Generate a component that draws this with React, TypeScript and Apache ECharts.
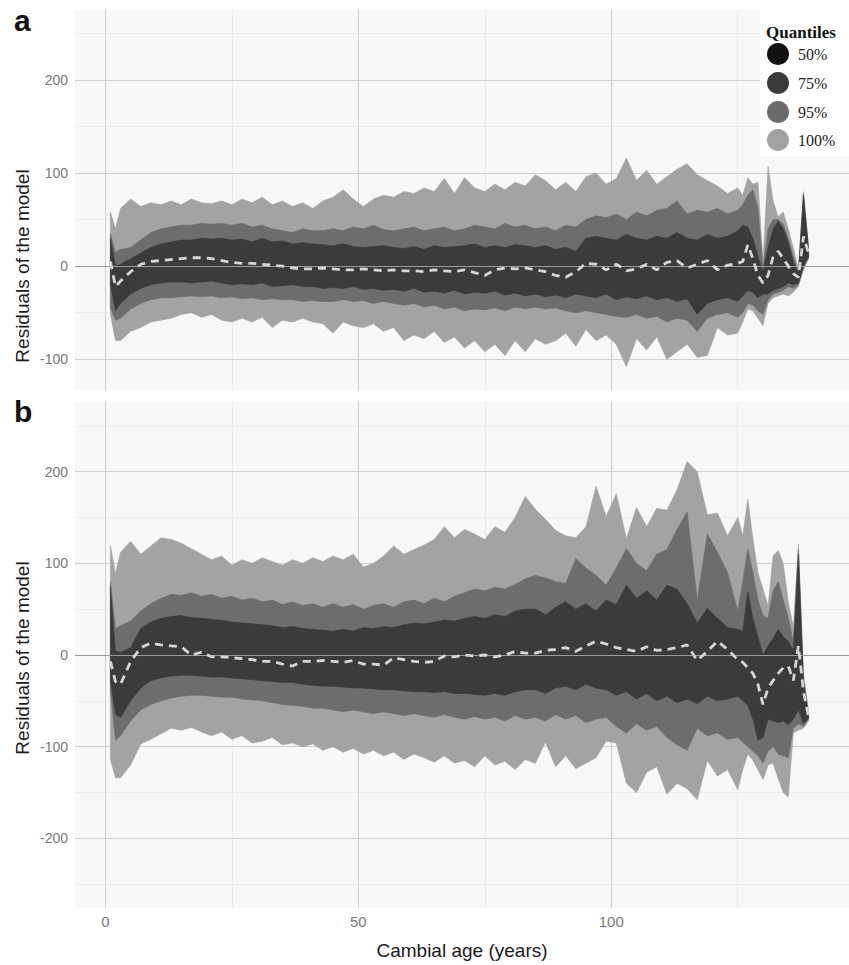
import React, { useEffect, useRef } from "react";
import * as echarts from "echarts";

// Cambial age (years)
const ages = [
  1, 2, 3,
  5, 7, 9, 11, 13, 15, 17, 19, 21, 23, 25, 27, 29, 31, 33, 35, 37, 39, 41, 43,
  45, 47, 49, 51, 53, 55, 57, 59, 61, 63, 65, 67, 69, 71, 73, 75, 77, 79, 81, 83,
  85, 87, 89, 91, 93, 95, 97, 99, 101, 103, 105, 107, 109, 111, 113, 115, 117, 119, 121, 123,
  125, 126, 127, 128, 129, 130, 131, 132, 133, 134, 135, 136, 137, 138, 139,
];

// Panel a
const aU100 = [
  58, 40, 62,
  72, 64, 68, 66, 70, 66, 72, 68, 67, 70, 66, 72, 68, 74, 66, 70, 64, 68, 62, 70,
  74, 82, 72, 64, 72, 76, 74, 80, 78, 84, 80, 94, 78, 95, 84, 80, 88, 82, 90, 86,
  98, 92, 82, 90, 80, 96, 100, 88, 94, 116, 92, 103, 88, 96, 104, 110, 98, 92, 86, 78,
  84, 76, 95, 88, 90, 6, 107, 70, 53, 58, 40, 20, -4, 80, 20,
];
const aU95 = [
  35, 15, 18,
  20, 28, 36, 40, 42, 44, 44, 46, 45, 46, 44, 46, 42, 44, 40, 38, 36, 40, 38, 38,
  40, 38, 42, 40, 44, 39, 38, 40, 42, 38, 40, 42, 38, 40, 44, 42, 40, 46, 42, 44,
  40, 42, 38, 44, 42, 50, 54, 52, 56, 50, 58, 54, 60, 62, 70, 56, 60, 58, 62, 56,
  60, 66, 76, 82, 62, -2, 40, 50, 50, 45, 30, 10, -6, 78, 19,
];
const aU75 = [
  30, 0, 2,
  8, 14, 20, 24, 26, 28, 28, 30, 29, 30, 28, 29, 26, 30, 26, 27, 24, 25, 24, 23,
  22, 24, 21, 20, 21, 22, 20, 19, 21, 18, 22, 20, 21, 22, 24, 20, 22, 20, 23, 22,
  20, 22, 18, 20, 16, 30, 32, 30, 28, 34, 30, 28, 32, 30, 36, 30, 28, 34, 30, 32,
  38, 44, 42, 30, 10, -6, 20, 40, 48, 40, 25, 5, -8, 76, 18,
];
const aMedian = [
  5, -22, -16,
  -6, 2, 5, 6, 7, 8, 9, 9, 8, 6, 4, 3, 3, 2, 1, 0, -2, -3, -3, -2,
  -3, -4, -4, -3, -4, -5, -4, -5, -5, -6, -4, -5, -6, -4, -7, -10, -4, -2, -3, -2,
  -4, -6, -10, -12, -6, 3, 2, -4, 2, -5, -3, 2, -4, 4, 6, -2, 2, 6, -4, 1,
  3, 5, 23, 8, -10, -18, -10, 10, 16, 8, 0, -8, -12, 32, 14,
];
const aL75 = [
  -20, -48, -40,
  -30, -24, -20, -18, -17, -17, -18, -17, -16, -18, -20, -19, -20, -18, -22, -21, -20, -22, -22, -24,
  -23, -24, -22, -25, -24, -26, -25, -27, -24, -28, -27, -29, -26, -30, -28, -29, -27, -31, -29, -32,
  -30, -33, -31, -34, -30, -32, -34, -30, -36, -33, -35, -32, -36, -34, -38, -35, -52, -40, -36, -34,
  -38, -32, -26, -28, -34, -30, -30, -26, -24, -22, -18, -20, -18, 0, 10,
];
const aL95 = [
  -45, -58, -56,
  -46, -40, -36, -34, -34, -33, -32, -33, -32, -34, -33, -35, -34, -36, -35, -36, -36, -38, -37, -38,
  -38, -36, -38, -37, -40, -38, -40, -42, -40, -44, -42, -46, -44, -48, -46, -47, -45, -48, -44, -46,
  -44, -46, -45, -48, -50, -48, -50, -52, -54, -55, -52, -56, -54, -60, -56, -58, -70, -56, -52, -50,
  -55, -50, -40, -42, -48, -52, -36, -30, -28, -26, -22, -24, -20, -2, 9,
];
const aL100 = [
  -52, -80, -80,
  -70, -66, -60, -58, -56, -52, -50, -55, -52, -58, -60, -56, -60, -55, -66, -58, -60, -56, -60, -62,
  -72, -60, -64, -66, -62, -70, -66, -80, -74, -78, -70, -82, -76, -88, -80, -92, -84, -96, -80, -92,
  -78, -84, -80, -72, -86, -68, -80, -74, -84, -108, -78, -90, -76, -100, -92, -84, -98, -96, -66, -74,
  -72, -60, -46, -48, -56, -64, -40, -34, -32, -30, -32, -28, -22, -4, 8,
];

// Panel b
const bU100 = [
  119, 89, 112,
  124, 110, 119, 128, 126, 122, 116, 110, 104, 108, 98, 104, 100, 106, 102, 98, 104, 100, 106, 102,
  108, 104, 110, 96, 100, 108, 119, 110, 115, 120, 126, 140, 128, 137, 132, 126, 140, 134, 150, 173,
  159, 148, 136, 130, 128, 140, 184, 151, 176, 127, 161, 140, 160, 158, 180, 211, 200, 153, 155, 130,
  150, 130, 170, 127, 90, 72, 54, 108, 114, 100, 58, 30, 121, -20, -62,
];
const bU95 = [
  80, 29, 32,
  37, 48, 56, 62, 66, 65, 68, 64, 66, 62, 64, 60, 62, 58, 60, 55, 58, 54, 56, 52,
  56, 52, 55, 50, 54, 56, 52, 58, 60, 56, 62, 58, 64, 68, 72, 70, 74, 72, 77, 83,
  87, 84, 80, 78, 105, 95, 87, 76, 95, 116, 100, 92, 110, 115, 137, 156, 60, 132, 112, 90,
  48, 80, 116, 90, 60, 43, 40, 70, 80, 60, 40, 15, 115, -25, -64,
];
const bU75 = [
  74, 4, 3,
  8, 29, 36, 40, 42, 43, 41, 40, 39, 38, 36, 35, 34, 33, 32, 30, 31, 29, 28, 27,
  26, 28, 26, 30, 29, 31, 30, 33, 35, 34, 36, 38, 37, 40, 42, 40, 44, 42, 48, 50,
  50, 44, 52, 58, 50, 56, 48, 60, 55, 76, 62, 70, 60, 76, 72, 56, 35, 51, 40, 30,
  28, 26, 69, 40, 20, 0, 10, 18, 28, 20, 15, 5, 110, -30, -65,
];
const bMedian = [
  -7, -29, -32,
  -7, 8, 13, 11, 10, 9, 0, 3, -2, -2, -3, -4, -5, -7, -7, -10, -12, -7, -7, -6,
  -7, -8, -6, -10, -10, -11, -3, -5, -7, -8, -7, -1, -2, 0, -1, 0, -2, 0, 4, 2,
  2, 5, 6, 8, 4, 10, 15, 12, 8, 6, 4, 9, 5, 6, 8, 11, -6, 4, 15, 6,
  -5, -8, -14, -20, -32, -54, -36, -28, -20, -14, -12, -28, 10, -40, -67,
];
const bL75 = [
  -28, -65, -68,
  -50, -36, -28, -25, -23, -22, -22, -23, -24, -24, -25, -26, -27, -28, -29, -30, -30, -32, -33, -34,
  -34, -35, -36, -36, -37, -38, -38, -39, -40, -40, -41, -40, -42, -42, -43, -44, -42, -44, -40, -38,
  -38, -42, -36, -34, -38, -32, -36, -38, -44, -40, -48, -42, -50, -45, -52, -48, -53, -45, -50, -48,
  -45, -50, -55, -70, -93, -90, -70, -72, -74, -72, -76, -70, -60, -75, -69,
];
const bL95 = [
  -40, -93, -88,
  -72, -60, -54, -50, -47, -45, -44, -44, -45, -46, -46, -48, -49, -50, -52, -54, -55, -56, -58, -58,
  -60, -62, -60, -62, -64, -62, -64, -66, -64, -66, -68, -65, -68, -70, -67, -70, -68, -72, -66, -70,
  -68, -72, -65, -70, -66, -74, -70, -68, -78, -85, -75, -82, -78, -90, -98, -104, -80, -88, -85, -92,
  -90, -95, -100, -105, -110, -118, -105, -100, -108, -110, -112, -80, -75, -78, -70,
];
const bL100 = [
  -114, -134, -134,
  -120, -97, -92, -86, -80, -82, -79, -84, -88, -84, -92, -88, -96, -94, -90, -98, -96, -100, -97, -104,
  -100, -106, -102, -108, -104, -110, -106, -114, -108, -112, -117, -110, -118, -115, -122, -110, -120, -116, -125, -114,
  -118, -95, -122, -110, -124, -118, -112, -94, -96, -140, -150, -128, -122, -152, -140, -146, -158, -115, -132, -125,
  -147, -125, -108, -115, -125, -136, -120, -118, -135, -150, -155, -85, -82, -80, -72,
];

// Ticks
const xTicks = [0, 50, 100];
const xMinor = [25, 75, 125];
const aYTicks = [-100, 0, 100, 200];
const aYMinor = [-50, 50, 150, 250];
const bYTicks = [-200, -100, 0, 100, 200];
const bYMinor = [-250, -150, -50, 50, 150, 250];

const quantileLabels = ["50%", "75%", "95%", "100%"];
const quantileColors = ["#111111", "#3a3a3a", "#6b6b6b", "#a2a2a2"];

const LIGHT = "#a3a3a3";
const MID = "#6d6d6d";
const DARK = "#3b3b3b";
const SANS = "'Liberation Sans', Arial, sans-serif";
const SERIF = "'Liberation Serif', 'Times New Roman', serif";

function pairs(ys: number[]) {
  return ages.map((x, i) => [x, ys[i]]);
}

function gridMarkLine(yMajor: number[], yMinor: number[]) {
  const major = { color: "#d0d0d0", width: 1, type: "solid" };
  const minor = { color: "#ececec", width: 1, type: "solid" };
  return {
    silent: true,
    symbol: "none",
    z: 1,
    animation: false,
    label: { show: false },
    emphasis: { disabled: true },
    lineStyle: { type: "solid" },
    data: [
      ...xMinor.map((v) => ({ xAxis: v, lineStyle: minor })),
      ...yMinor.map((v) => ({ yAxis: v, lineStyle: minor })),
      ...xTicks.map((v) => ({ xAxis: v, lineStyle: major })),
      ...yMajor.map((v) => ({ yAxis: v, lineStyle: major })),
    ],
  };
}

function gridSeries(idx: number, yMajor: number[], yMinor: number[]) {
  return {
    type: "line",
    xAxisIndex: idx,
    yAxisIndex: idx,
    data: pairs(ages.map(() => 0)),
    symbol: "none",
    showSymbol: false,
    silent: true,
    lineStyle: { width: 0, opacity: 0 },
    z: 1,
    markLine: gridMarkLine(yMajor, yMinor),
  };
}

function band(idx: number, lower: number[], upper: number[], color: string) {
  return {
    type: "custom",
    xAxisIndex: idx,
    yAxisIndex: idx,
    silent: true,
    z: 2,
    clip: true,
    data: ages.map((x, i) => [x, lower[i], upper[i]]),
    encode: { x: 0, y: [1, 2] },
    renderItem: (params: any, api: any) => {
      if (params.dataIndex !== 0) return null;
      const top = ages.map((x, i) => api.coord([x, upper[i]]));
      const bottom = ages.map((x, i) => api.coord([x, lower[i]])).reverse();
      return {
        type: "polygon",
        shape: { points: top.concat(bottom) },
        style: { fill: color, stroke: color, lineWidth: 0.6 },
      };
    },
  };
}

function medianSeries(idx: number, ys: number[]) {
  return {
    type: "line",
    xAxisIndex: idx,
    yAxisIndex: idx,
    data: pairs(ys),
    symbol: "none",
    showSymbol: false,
    silent: true,
    lineStyle: { color: "#d6d6d6", width: 2.8, type: [8, 6] },
    z: 5,
    markLine: {
      silent: true,
      symbol: "none",
      z: 4,
      animation: false,
      label: { show: false },
      emphasis: { disabled: true },
      lineStyle: { color: "#9a9a9a", width: 1, type: "solid" },
      data: [{ yAxis: 0 }],
    },
  };
}

function xAxis(idx: number, withLabels: boolean) {
  return {
    type: "value",
    gridIndex: idx,
    min: -6,
    max: 147,
    axisLine: { show: false },
    axisTick: { show: false },
    splitLine: { show: false },
    axisLabel: withLabels
      ? { show: true, customValues: xTicks, color: "#7a7a7a", fontSize: 15, margin: 6, fontFamily: SANS }
      : { show: false },
    name: withLabels ? "Cambial age (years)" : "",
    nameLocation: "middle",
    nameGap: 33,
    nameTextStyle: { color: "#1a1a1a", fontSize: 19, fontFamily: SANS },
  };
}

function yAxis(idx: number, min: number, max: number, ticks: number[]) {
  return {
    type: "value",
    gridIndex: idx,
    min,
    max,
    axisLine: { show: false },
    axisTick: { show: false },
    splitLine: { show: false },
    axisLabel: { show: true, customValues: ticks, color: "#7a7a7a", fontSize: 14, margin: 7, fontFamily: SANS },
  };
}

function buildOption() {
  const legendY = [54, 83, 112, 140];
  const graphic: any[] = [
    { type: "text", x: 14, y: 5, z: 10, style: { text: "a", font: `bold 30px ${SANS}`, fill: "#111" } },
    { type: "text", x: 14, y: 396, z: 10, style: { text: "b", font: `bold 30px ${SANS}`, fill: "#111" } },
    {
      type: "text", x: 22, y: 266, rotation: Math.PI / 2, z: 10,
      style: { text: "Residuals of the model", font: `19px ${SANS}`, fill: "#1a1a1a", align: "center", verticalAlign: "middle" },
    },
    {
      type: "text", x: 22, y: 658, rotation: Math.PI / 2, z: 10,
      style: { text: "Residuals of the model", font: `19px ${SANS}`, fill: "#1a1a1a", align: "center", verticalAlign: "middle" },
    },
    { type: "rect", z: 10, shape: { x: 760, y: 10, width: 89, height: 146 }, style: { fill: "#ffffff" } },
    {
      type: "text", x: 801, y: 32, z: 11,
      style: { text: "Quantiles", font: `bold 17px ${SERIF}`, fill: "#111", align: "center", verticalAlign: "middle" },
    },
  ];
  quantileLabels.forEach((lab, i) => {
    graphic.push({ type: "circle", z: 11, shape: { cx: 778, cy: legendY[i], r: 11 }, style: { fill: quantileColors[i] } });
    graphic.push({
      type: "text", x: 798, y: legendY[i], z: 11,
      style: { text: lab, font: `16px ${SERIF}`, fill: "#222", align: "left", verticalAlign: "middle" },
    });
  });

  return {
    animation: false,
    backgroundColor: "#ffffff",
    grid: [
      { left: 75, right: 0, top: 10, height: 380, show: true, backgroundColor: "#f8f8f8", borderWidth: 0 },
      { left: 75, right: 0, top: 402, height: 510, show: true, backgroundColor: "#f8f8f8", borderWidth: 0 },
    ],
    xAxis: [xAxis(0, false), xAxis(1, true)],
    yAxis: [yAxis(0, -133, 275, aYTicks), yAxis(1, -276, 276, bYTicks)],
    series: [
      gridSeries(0, aYTicks, aYMinor),
      band(0, aL100, aU100, LIGHT),
      band(0, aL95, aU95, MID),
      band(0, aL75, aU75, DARK),
      medianSeries(0, aMedian),
      gridSeries(1, bYTicks, bYMinor),
      band(1, bL100, bU100, LIGHT),
      band(1, bL95, bU95, MID),
      band(1, bL75, bU75, DARK),
      medianSeries(1, bMedian),
    ],
    graphic,
  };
}

export default function App() {
  const ref = useRef<HTMLDivElement>(null);
  useEffect(() => {
    if (!ref.current) return;
    const chart = echarts.init(ref.current, null, { renderer: "svg" });
    chart.setOption(buildOption() as any);
    return () => chart.dispose();
  }, []);
  return (
    <div
      ref={ref}
      style={{ position: "absolute", left: 0, top: 0, width: 849, height: 965, background: "#fff" }}
    />
  );
}
